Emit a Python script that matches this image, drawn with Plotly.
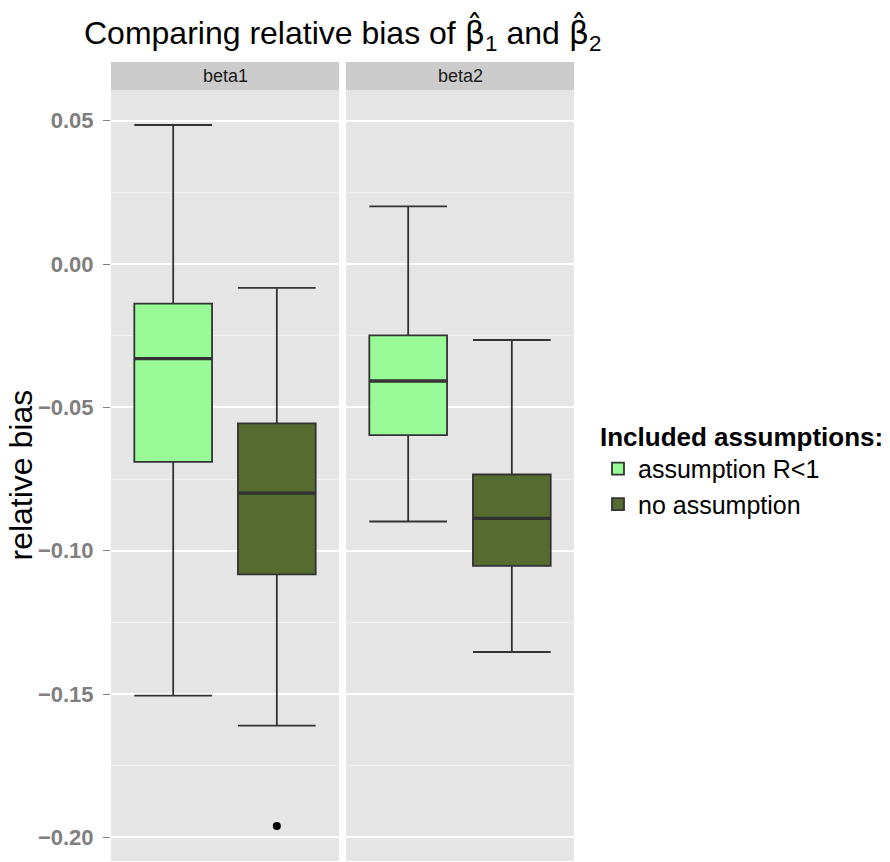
import plotly.graph_objects as go

facets = ["beta1", "beta2"]
groups = ["assumption R<1", "no assumption"]
colors = ["#98FB98", "#556B2F"]

# per facet, per group
lower = {"beta1": [-0.1505, -0.1610], "beta2": [-0.0898, -0.1353]}
q1 = {"beta1": [-0.0690, -0.1082], "beta2": [-0.0597, -0.1053]}
median = {"beta1": [-0.0330, -0.0799], "beta2": [-0.0408, -0.0887]}
q3 = {"beta1": [-0.0138, -0.0556], "beta2": [-0.0249, -0.0734]}
upper = {"beta1": [0.0485, -0.0083], "beta2": [0.0201, -0.0265]}
outliers = {"beta1": [[], [-0.1960]], "beta2": [[], []]}

yticks = [-0.20, -0.15, -0.10, -0.05, 0.00, 0.05]

W, H = 890, 862
L, R, T, B = 111, 574, 90, 861
gap = 7
pw = (R - L - gap) / 2

fig = go.Figure()
boxw = 0.75
for fi, f in enumerate(facets):
    xa = "x" if fi == 0 else "x2"
    ya = "y" if fi == 0 else "y2"
    for gi, g in enumerate(groups):
        xpos = gi + 1
        fig.add_trace(go.Box(
            x=[xpos], q1=[q1[f][gi]], median=[median[f][gi]], q3=[q3[f][gi]],
            lowerfence=[lower[f][gi]], upperfence=[upper[f][gi]],
            width=boxw, whiskerwidth=1, fillcolor=colors[gi],
            line=dict(color="#333333", width=1.8),
            name=g, legendgroup=g, showlegend=(fi == 0),
            boxpoints=False, xaxis=xa, yaxis=ya, hoverinfo="skip",
        ))
        fig.add_trace(go.Scatter(
            x=[xpos - boxw / 2, xpos + boxw / 2], y=[median[f][gi]] * 2,
            mode="lines", line=dict(color="#333333", width=3.4),
            showlegend=False, xaxis=xa, yaxis=ya, hoverinfo="skip",
        ))
        if outliers[f][gi]:
            fig.add_trace(go.Scatter(
                x=[xpos] * len(outliers[f][gi]), y=outliers[f][gi],
                mode="markers", marker=dict(color="black", size=8),
                showlegend=False, xaxis=xa, yaxis=ya, hoverinfo="skip",
            ))

d1 = [0, pw / (R - L)]
d2 = [(pw + gap) / (R - L), 1]
ydom_range = [-0.2082, 0.0607]

xcommon = dict(range=[0.4, 2.6], showgrid=False, showticklabels=False, ticks="",
               zeroline=False, showline=False, fixedrange=True)
ycommon = dict(range=ydom_range, zeroline=False, showline=False,
               gridcolor="white", gridwidth=1.8,
               minor=dict(dtick=0.025, tick0=0.025, gridcolor="#F2F2F2", gridwidth=0.9, showgrid=True))

fig.update_layout(
    width=W, height=H,
    margin=dict(l=L, r=W - R, t=T, b=H - B, pad=0),
    paper_bgcolor="white", plot_bgcolor="#E5E5E5",
    font=dict(family="Liberation Sans, Arial, sans-serif", color="black"),
    xaxis=dict(domain=d1, **xcommon),
    xaxis2=dict(domain=d2, **xcommon),
    yaxis=dict(anchor="x", tickvals=yticks, tickformat=".2f",
               ticks="outside", ticklen=7, tickcolor="#7F7F7F", tickwidth=1.2,
               ticklabelstandoff=5,
               tickfont=dict(size=22, color="#7F7F7F", weight="bold"),
               **ycommon),
    yaxis2=dict(anchor="x2", matches="y", tickvals=yticks, showticklabels=False, ticks="",
                **ycommon),
    boxmode="overlay",
    showlegend=True,
    legend=dict(
        x=(598 - L) / (R - L), xanchor="left",
        y=(B - 412) / (B - T), yanchor="top",
        title=dict(text="<b>Included assumptions:</b>", font=dict(size=26, color="black")),
        font=dict(size=25, color="black"),
        bgcolor="rgba(0,0,0,0)", tracegroupgap=0, itemwidth=30,
    ),
)

# y axis title
fig.add_annotation(x=(20 - L) / (R - L), y=0.5, xref="paper", yref="paper",
                   text="relative bias", textangle=-90, showarrow=False,
                   font=dict(size=32, color="black"), xanchor="center", yanchor="middle")

# facet strips
strip_top = (B - 62) / (B - T)
for fi, f in enumerate(facets):
    dom = d1 if fi == 0 else d2
    fig.add_shape(type="rect", xref="paper", yref="paper",
                  x0=dom[0], x1=dom[1], y0=1, y1=strip_top,
                  fillcolor="#CCCCCC", line=dict(width=0), layer="below")
    fig.add_annotation(x=(dom[0] + dom[1]) / 2, y=(1 + strip_top) / 2, xref="paper", yref="paper",
                       text=f, showarrow=False, font=dict(size=18, color="#1A1A1A"),
                       xanchor="center", yanchor="middle")

# title
hat = '<span style="font-family:DejaVu Sans">β\u0302</span>'
fig.add_annotation(x=0.5, y=(B - 34) / (B - T), xref="paper", yref="paper",
                   text=f"Comparing relative bias of {hat}<sub>1</sub> and {hat}<sub>2</sub>",
                   showarrow=False, font=dict(size=32, color="black"),
                   xanchor="center", yanchor="middle")

fig.write_html("out.html")
